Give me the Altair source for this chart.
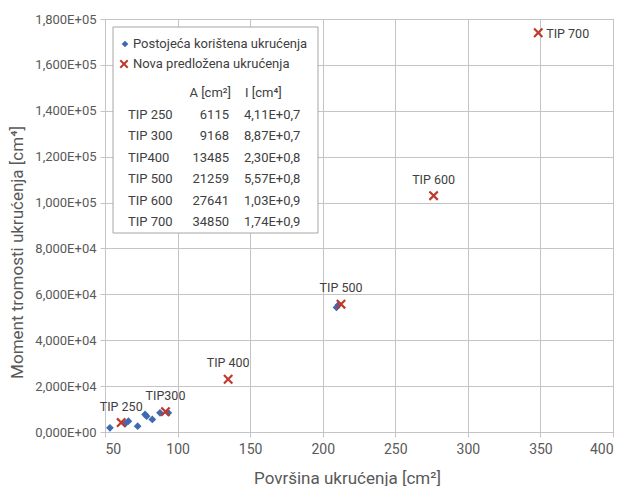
import altair as alt
import pandas as pd

# ---- data ----
# existing stiffeners (blue diamonds): area [cm2], moment of inertia [cm4]
exist_A = [53.4, 63.8, 66.1, 72.5, 77.6, 78.7, 82.6, 87.9, 93.6, 209.5, 211.0]
exist_I = [1830, 3570, 4710, 2530, 7630, 6890, 5450, 8370, 8370, 54300, 55500]

# proposed stiffeners (red crosses) + legend table
tip_names = ["TIP 250", "TIP 300", "TIP400", "TIP 500", "TIP 600", "TIP 700"]
tip_A_mm2 = [6115, 9168, 13485, 21259, 27641, 34850]
tip_I_text = ["4,11E+0,7", "8,87E+0,7", "2,30E+0,8", "5,57E+0,8", "1,03E+0,9", "1,74E+0,9"]
tip_I_cm4 = [4110, 8870, 23000, 55700, 103000, 174000]
point_labels = ["TIP 250", "TIP300", "TIP 400", "TIP 500", "TIP 600", "TIP 700"]

x_ticks = [50, 100, 150, 200, 250, 300, 350, 400]
y_ticks = [0, 20000, 40000, 60000, 80000, 100000, 120000, 140000, 160000, 180000]

legend_names = ["Postojeća korištena ukrućenja", "Nova predložena ukrućenja"]

BLUE = "#3F69B0"
RED = "#C0392B"
TXT = "#595959"
DARK = "#404040"
GRID = "#C4C4C4"
XPATH = "M-1,-1L1,1M-1,1L1,-1"

exist_df = pd.DataFrame({"A": exist_A, "I": exist_I})
new_df = pd.DataFrame({
    "A": [a / 100 for a in tip_A_mm2],
    "I": tip_I_cm4,
    "label": point_labels,
})
table_df = pd.DataFrame({
    "idx": list(range(len(tip_names))),
    "name": tip_names,
    "area": [str(a) for a in tip_A_mm2],
    "inertia": tip_I_text,
})

x_enc = alt.X(
    "A:Q",
    scale=alt.Scale(domain=[50, 400], nice=False, zero=False),
    axis=alt.Axis(
        values=x_ticks, title="Površina ukrućenja [cm²]",
        labelFontSize=14, labelColor=TXT, labelPadding=5,
        titleFontSize=17, titleColor=TXT, titleFontWeight="normal",
        titleX=242, titleY=46, titleBaseline="middle", titleAlign="center",
        tickSize=5, gridColor=GRID, domainColor=GRID, tickColor=GRID,
    ),
)
y_enc = alt.Y(
    "I:Q",
    scale=alt.Scale(domain=[0, 180000], nice=False),
    axis=alt.Axis(
        values=y_ticks, title="Moment tromosti ukrućenja [cm⁴]",
        labelExpr="replace(replace(format(datum.value, '.3e'), '.', ','), 'e+', 'E+0')",
        labelFontSize=13, labelColor=TXT, labelPadding=4,
        titleFontSize=17, titleColor=TXT, titleFontWeight="normal",
        titleX=-88, titleY=233, titleAngle=-90, titleBaseline="middle", titleAlign="center",
        tickSize=5, gridColor=GRID, domainColor=GRID, tickColor=GRID,
    ),
)

diamonds = alt.Chart(exist_df).mark_point(
    shape="diamond", filled=True, size=60, color=BLUE, opacity=1
).encode(x=x_enc, y=y_enc)

crosses = alt.Chart(new_df).mark_point(
    shape=XPATH, filled=False, size=70, strokeWidth=2.2, color=RED, opacity=1
).encode(x=x_enc, y=y_enc)

labels_above = alt.Chart(new_df).transform_filter(
    "datum.label != 'TIP 700'"
).mark_text(dy=-16, fontSize=12.5, color=DARK, baseline="middle").encode(
    x=x_enc, y=y_enc, text="label:N"
)
label_right = alt.Chart(new_df).transform_filter(
    "datum.label == 'TIP 700'"
).mark_text(dx=8, dy=1, align="left", fontSize=12.5, color=DARK, baseline="middle").encode(
    x=x_enc, y=y_enc, text="label:N"
)

# ---- legend box with table ----
box = alt.Chart(pd.DataFrame({"k": [0]})).mark_rect(
    fill="white", stroke="#A6A6A6", strokeWidth=1
).encode(x=alt.value(8), x2=alt.value(213), y=alt.value(8), y2=alt.value(214))

leg_diamond = alt.Chart(pd.DataFrame({"k": [0]})).mark_point(
    shape="diamond", filled=True, size=45, color=BLUE, opacity=1
).encode(x=alt.value(20), y=alt.value(25))
leg_cross = alt.Chart(pd.DataFrame({"k": [0]})).mark_point(
    shape=XPATH, filled=False, size=55, strokeWidth=2, color=RED, opacity=1
).encode(x=alt.value(19), y=alt.value(45))

leg_text1 = alt.Chart(pd.DataFrame({"t": [legend_names[0]]})).mark_text(
    align="left", baseline="middle", fontSize=13, color=DARK
).encode(x=alt.value(28), y=alt.value(25), text="t:N")
leg_text2 = alt.Chart(pd.DataFrame({"t": [legend_names[1]]})).mark_text(
    align="left", baseline="middle", fontSize=13, color=DARK
).encode(x=alt.value(28), y=alt.value(45), text="t:N")

head_A = alt.Chart(pd.DataFrame({"t": ["A [cm²]"]})).mark_text(
    align="right", baseline="middle", fontSize=13, color=DARK
).encode(x=alt.value(126), y=alt.value(74), text="t:N")
head_I = alt.Chart(pd.DataFrame({"t": ["I [cm⁴]"]})).mark_text(
    align="left", baseline="middle", fontSize=13, color=DARK
).encode(x=alt.value(140), y=alt.value(74), text="t:N")

tbase = alt.Chart(table_df).transform_calculate(ypx="95.5 + datum.idx * 21.5")
t_name = tbase.mark_text(align="left", baseline="middle", fontSize=13, color=DARK).encode(
    x=alt.value(23), y=alt.Y("ypx:Q", scale=None, axis=None), text="name:N"
)
t_area = tbase.mark_text(align="right", baseline="middle", fontSize=13, color=DARK).encode(
    x=alt.value(124), y=alt.Y("ypx:Q", scale=None, axis=None), text="area:N"
)
t_inert = tbase.mark_text(align="left", baseline="middle", fontSize=13, color=DARK).encode(
    x=alt.value(139), y=alt.Y("ypx:Q", scale=None, axis=None), text="inertia:N"
)

chart = alt.layer(
    diamonds, crosses, labels_above, label_right,
    box, leg_diamond, leg_cross, leg_text1, leg_text2, head_A, head_I,
    t_name, t_area, t_inert,
).properties(
    width=508, height=413,
    autosize=alt.AutoSizeParams(type="none"),
    padding={"left": 97, "top": 11, "right": 4, "bottom": 54},
).configure(font="Roboto").configure_view(stroke=GRID)

chart.save("out.html", embed_options={"renderer": "svg", "actions": False})
